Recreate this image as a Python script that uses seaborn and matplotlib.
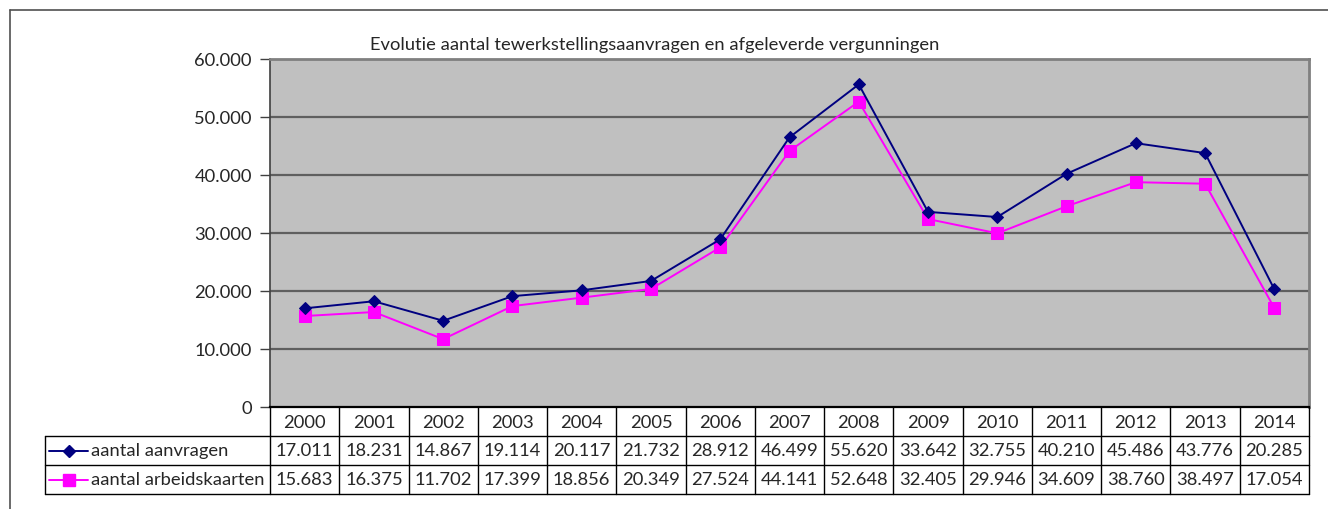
import matplotlib
matplotlib.use("Agg")
import matplotlib.pyplot as plt
from matplotlib.lines import Line2D
import seaborn as sns
import pandas as pd
import numpy as np

years = ["2000", "2001", "2002", "2003", "2004", "2005", "2006", "2007",
         "2008", "2009", "2010", "2011", "2012", "2013", "2014"]
aanvragen = [17011, 18231, 14867, 19114, 20117, 21732, 28912, 46499,
             55620, 33642, 32755, 40210, 45486, 43776, 20285]
arbeidskaarten = [15683, 16375, 11702, 17399, 18856, 20349, 27524, 44141,
                  52648, 32405, 29946, 34609, 38760, 38497, 17054]
series_names = ["aantal aanvragen", "aantal arbeidskaarten"]
title = "Evolutie aantal tewerkstellingsaanvragen en afgeleverde vergunningen"

sns.set_theme(style="white")
plt.rcParams['font.family'] = ['Lato', 'DejaVu Sans']
FS = 13.2

W, H = 1328, 510
fig = plt.figure(figsize=(W / 100, H / 100), dpi=100)

def fx(px):
    return px / W

def fy(py):
    return 1 - py / H

L, R, T, B = 270, 1309, 60, 408
ax = fig.add_axes([fx(L), fy(B), fx(R - L), fy(T) - fy(B)])

df = pd.DataFrame({
    "pos": list(range(len(years))) * 2,
    "value": aanvragen + arbeidskaarten,
    "series": [series_names[0]] * len(years) + [series_names[1]] * len(years),
})
colors = {series_names[0]: "#000080", series_names[1]: "#FF00FF"}
markers = {series_names[0]: "D", series_names[1]: "s"}

sub = df[df.series == series_names[0]]
sns.lineplot(data=sub, x="pos", y="value", ax=ax, color="#000080",
             marker="D", markersize=6.5, markeredgecolor="#000080", lw=1.4, zorder=4)
sub = df[df.series == series_names[1]]
sns.lineplot(data=sub, x="pos", y="value", ax=ax, color="#FF00FF",
             marker="s", markersize=8, markeredgecolor="#FF00FF", lw=1.4, zorder=3)

ax.set_facecolor("#C0C0C0")
ax.set_xlim(-0.5, len(years) - 0.5)
ax.set_ylim(0, 60000)
yt = list(range(0, 60001, 10000))
ax.set_yticks(yt)
ax.set_yticklabels([("{:,}".format(v)).replace(",", ".") for v in yt], fontsize=FS)
for v in yt[1:]:
    ax.axhline(v, color="#5f5f5f", lw=1.6, zorder=1)
ax.set_xticks([])
ax.set_xlabel("")
ax.set_ylabel("")
ax.tick_params(axis="y", which="both", left=True, length=7, width=1, color="#404040", pad=6)
for s in ["top", "right"]:
    ax.spines[s].set_color("#808080")
    ax.spines[s].set_linewidth(2)
ax.spines["left"].set_color("#404040")
ax.spines["left"].set_linewidth(1.2)
ax.spines["bottom"].set_color("#000000")
ax.spines["bottom"].set_linewidth(1.6)
if ax.get_legend():
    ax.get_legend().remove()

fig.text(fx(655), fy(45), title, ha="center", va="center", fontsize=FS)

# data table
tL, tB = 45, 495
colw = (R - L) / len(years)
leg_units = (L - tL) / colw
tax = fig.add_axes([fx(tL), fy(tB), fx(R - tL), fy(B) - fy(tB)])
tax.set_xlim(-0.5 - leg_units, len(years) - 0.5)
tax.set_ylim(3, 0)
tax.axis("off")
kw = dict(color="black", lw=1, clip_on=False)
x0 = -0.5 - leg_units
xe = len(years) - 0.5
tax.plot([-0.5, xe], [1, 1], **kw)
tax.plot([x0, xe], [2, 2], **kw)
tax.plot([x0, xe], [3, 3], **kw)
tax.plot([x0, -0.5], [1, 1], **kw)
tax.plot([x0, x0], [1, 3], **kw)
for i in range(len(years) + 1):
    tax.plot([i - 0.5, i - 0.5], [0, 3], **kw)
for i, y in enumerate(years):
    tax.text(i, 0.5, y, ha="center", va="center", fontsize=FS)
    tax.text(i, 1.5, ("{:,}".format(aanvragen[i])).replace(",", "."), ha="center", va="center", fontsize=FS)
    tax.text(i, 2.5, ("{:,}".format(arbeidskaarten[i])).replace(",", "."), ha="center", va="center", fontsize=FS)
# legend keys
kx0 = x0 + 4 / colw
kx1 = x0 + 43 / colw
for r, name in enumerate(series_names):
    yy = 1.5 + r
    tax.plot([kx0, kx1], [yy, yy], color=colors[name], lw=1.4, clip_on=False)
    tax.plot([(kx0 + kx1) / 2], [yy], marker=markers[name], color=colors[name],
             markersize=6.5 if r == 0 else 8, clip_on=False)
    tax.text(kx1 + 3 / colw, yy, name, ha="left", va="center", fontsize=FS)

# outer border (top and left)
fig.add_artist(Line2D([fx(10), 1], [fy(11), fy(11)], color="#505050", lw=1.2))
fig.add_artist(Line2D([fx(10), fx(10)], [fy(11), 0], color="#505050", lw=1.2))

fig.savefig("out.png", dpi=100)
